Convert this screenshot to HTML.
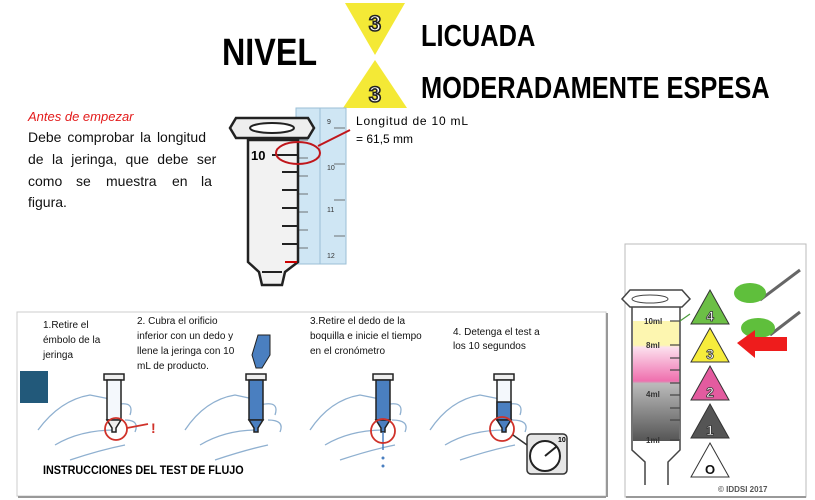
<!DOCTYPE html>
<html><head><meta charset="utf-8"><style>
body{margin:0;background:#fff;width:815px;height:500px;overflow:hidden}
svg{display:block;font-family:"Liberation Sans",sans-serif}
</style></head><body>
<svg width="815" height="500" viewBox="0 0 815 500" xmlns="http://www.w3.org/2000/svg">
<!-- Header -->
<text x="222" y="65" font-size="38" font-weight="bold" transform="translate(222,0) scale(0.85,1) translate(-222,0)" fill="#000">NIVEL</text>
<polygon points="345,3 405,3 375,55" fill="#f4e936"/>
<polygon points="375,60 407,108 343,108" fill="#f4e936"/>
<text x="375" y="31" font-size="22" font-weight="bold" text-anchor="middle" fill="#fff" stroke="#222" stroke-width="1.6">3</text>
<text x="375" y="102" font-size="22" font-weight="bold" text-anchor="middle" fill="#fff" stroke="#222" stroke-width="1.6">3</text>
<text x="421" y="46" font-size="31" font-weight="bold" transform="translate(421,0) scale(0.82,1) translate(-421,0)">LICUADA</text>
<text x="421" y="98" font-size="31" font-weight="bold" transform="translate(421,0) scale(0.82,1) translate(-421,0)">MODERADAMENTE ESPESA</text>

<!-- Left text -->
<text x="28" y="121" font-size="13" font-style="italic" fill="#e31b1b">Antes de empezar</text>
<g font-size="14" fill="#111">
<text x="28" y="142" word-spacing="2">Debe comprobar la longitud</text>
<text x="28" y="164" word-spacing="4.5">de la jeringa, que debe ser</text>
<text y="186"><tspan x="28">como</tspan><tspan x="76">se</tspan><tspan x="106">muestra</tspan><tspan x="172">en</tspan><tspan x="201">la</tspan></text>
<text x="28" y="207">figura.</text>
</g>

<!-- Top syringe -->
<rect x="296" y="108" width="50" height="156" fill="#cfe6f4" stroke="#9bbfd6"/>
<line x1="320" y1="108" x2="320" y2="264" stroke="#9bbfd6"/>
<g stroke="#555" stroke-width="0.8">
<line x1="298" y1="122" x2="308" y2="122"/><line x1="298" y1="140" x2="308" y2="140"/><line x1="298" y1="158" x2="308" y2="158"/><line x1="298" y1="176" x2="308" y2="176"/><line x1="298" y1="194" x2="308" y2="194"/><line x1="298" y1="212" x2="308" y2="212"/><line x1="298" y1="230" x2="308" y2="230"/><line x1="298" y1="248" x2="308" y2="248"/>
<line x1="334" y1="128" x2="345" y2="128"/><line x1="334" y1="164" x2="345" y2="164"/><line x1="334" y1="200" x2="345" y2="200"/><line x1="334" y1="236" x2="345" y2="236"/>
</g>
<g font-size="7" fill="#333"><text x="327" y="124">9</text><text x="327" y="170">10</text><text x="327" y="212">11</text><text x="327" y="258">12</text></g>
<path d="M248,140 L298,140 L298,262 L285,272 L282,285 L262,285 L259,272 L248,262 Z" fill="#f2f2f2" stroke="#222" stroke-width="2.5"/>
<path d="M262,272 L282,272" stroke="#222" stroke-width="2"/>
<path d="M236,118 L308,118 L314,128 L308,138 L236,138 L230,128 Z" fill="#eee" stroke="#222" stroke-width="2.5"/>
<ellipse cx="272" cy="128" rx="22" ry="5" fill="#fff" stroke="#222" stroke-width="2"/>
<g stroke="#222" stroke-width="2">
<line x1="272" y1="155" x2="298" y2="155"/><line x1="282" y1="172" x2="298" y2="172"/><line x1="282" y1="190" x2="298" y2="190"/><line x1="282" y1="208" x2="298" y2="208"/><line x1="282" y1="226" x2="298" y2="226"/><line x1="282" y1="244" x2="298" y2="244"/>
</g>
<text x="251" y="160" font-size="13" font-weight="bold">10</text>
<line x1="285" y1="262" x2="297" y2="262" stroke="#c00" stroke-width="2"/>
<ellipse cx="298" cy="153" rx="22" ry="11" fill="none" stroke="#c0161b" stroke-width="2"/>
<line x1="318" y1="146" x2="350" y2="130" stroke="#c0161b" stroke-width="2"/>
<text x="356" y="125" font-size="12" textLength="112" lengthAdjust="spacing">Longitud de 10 mL</text>
<text x="356" y="143" font-size="12">= 61,5 mm</text>

<!-- Bottom panel -->
<rect x="17" y="312" width="589" height="184" fill="#fff" stroke="#ccc"/>
<line x1="18" y1="497" x2="606" y2="497" stroke="#999" stroke-width="2"/>
<line x1="607" y1="313" x2="607" y2="497" stroke="#999" stroke-width="2"/>
<rect x="20" y="371" width="28" height="32" fill="#22597a"/>
<g font-size="10" fill="#111">
<text x="43" y="328">1.Retire el</text><text x="43" y="343">émbolo de la</text><text x="43" y="358">jeringa</text>
<text x="137" y="324">2. Cubra el orificio</text><text x="137" y="339">inferior con un dedo y</text><text x="137" y="354">llene la jeringa con 10</text><text x="137" y="369">mL de producto.</text>
<text x="310" y="324">3.Retire el dedo de la</text><text x="310" y="339">boquilla e inicie el tiempo</text><text x="310" y="354">en el cronómetro</text>
<text x="453" y="335">4. Detenga el test a</text><text x="453" y="349">los 10 segundos</text>
</g>
<text x="43" y="474" font-size="12" font-weight="bold" transform="translate(43,0) scale(0.9,1) translate(-43,0)">INSTRUCCIONES DEL TEST DE FLUJO</text>

<!-- hands & syringes -->
<g fill="none" stroke="#8fb0d0" stroke-width="1.3">
<path d="M38,430 Q60,400 90,395 L115,400 M55,445 Q80,430 115,430 M70,460 Q100,450 125,445 M115,405 Q135,400 130,415 M125,420 Q140,420 135,432"/>
<path d="M185,430 Q205,400 235,395 L258,400 M200,445 Q225,430 258,430 M215,460 Q245,450 268,445 M260,405 Q280,400 275,415 M268,420 Q285,420 280,432"/>
<path d="M310,430 Q330,400 360,395 L385,400 M325,445 Q350,430 385,430 M340,460 Q370,450 395,445 M385,405 Q405,400 400,415 M392,420 Q410,420 405,432"/>
<path d="M430,430 Q450,400 480,395 L505,400 M445,445 Q470,430 505,430 M460,460 Q490,450 515,445 M505,405 Q525,400 520,415 M512,420 Q530,420 525,432"/>
</g>
<g stroke="#222" stroke-width="1.5">
<rect x="104" y="374" width="20" height="6" fill="#eee"/><rect x="107" y="380" width="14" height="40" fill="#f4f8fc"/><path d="M107,420 L121,420 L116,428 L116,432 L112,432 L112,428 Z" fill="#eee"/>
<rect x="246" y="374" width="20" height="6" fill="#eee"/><rect x="249" y="380" width="14" height="40" fill="#4a7fc0"/><path d="M249,420 L263,420 L258,428 L258,432 L254,432 L254,428 Z" fill="#4a7fc0"/>
<rect x="373" y="374" width="20" height="6" fill="#eee"/><rect x="376" y="380" width="14" height="40" fill="#4a7fc0"/><path d="M376,420 L390,420 L385,428 L385,432 L381,432 L381,428 Z" fill="#4a7fc0"/>
<rect x="494" y="374" width="20" height="6" fill="#eee"/><rect x="497" y="380" width="14" height="40" fill="#f4f8fc"/><rect x="497" y="402" width="14" height="18" fill="#4a7fc0"/><path d="M497,420 L511,420 L506,428 L506,432 L502,432 L502,428 Z" fill="#4a7fc0"/>
</g>
<path d="M258,335 L270,335 L270,355 L262,368 L256,368 L252,355 Z" fill="#4a7fc0" stroke="#222"/>
<line x1="383" y1="432" x2="383" y2="450" stroke="#4a7fc0" stroke-width="1.5"/>
<circle cx="383" cy="458" r="1.5" fill="#4a7fc0"/><circle cx="383" cy="466" r="1.5" fill="#4a7fc0"/>
<g fill="none" stroke="#d0322a" stroke-width="1.8">
<circle cx="116" cy="429" r="11"/><line x1="127" y1="428" x2="148" y2="424"/>
<circle cx="383" cy="431" r="12"/>
<circle cx="502" cy="429" r="12"/>
</g>
<text x="151" y="433" font-size="14" font-weight="bold" fill="#d0322a">!</text>
<line x1="513" y1="435" x2="527" y2="445" stroke="#333" stroke-width="1.5"/>
<rect x="527" y="434" width="40" height="40" rx="4" fill="#e6e6e6" stroke="#333" stroke-width="1.5"/>
<circle cx="545" cy="456" r="15" fill="#fff" stroke="#222" stroke-width="2"/>
<line x1="545" y1="456" x2="556" y2="447" stroke="#222" stroke-width="2"/>
<text x="558" y="442" font-size="7" font-weight="bold">10</text>

<!-- Right panel -->
<rect x="625" y="244" width="181" height="253" fill="#fff" stroke="#bbb"/>
<line x1="626" y1="497" x2="806" y2="497" stroke="#999" stroke-width="2"/>
<path d="M632,300 L632,450 L645,462 L645,485 M680,300 L680,450 L668,462 L668,485" fill="none" stroke="#444" stroke-width="1.5"/>
<defs><linearGradient id="g" x1="0" y1="0" x2="0" y2="1">
<stop offset="0" stop-color="#fdf6b0"/><stop offset="0.2" stop-color="#fdf6b0"/><stop offset="0.22" stop-color="#fce0ee"/><stop offset="0.5" stop-color="#ef6fae"/><stop offset="0.52" stop-color="#bbb"/><stop offset="1" stop-color="#555"/></linearGradient></defs>
<rect x="633" y="321" width="46" height="120" fill="url(#g)"/>
<path d="M630,290 L682,290 L690,299 L682,307 L630,307 L622,299 Z" fill="#fff" stroke="#444" stroke-width="1.5"/>
<ellipse cx="650" cy="299" rx="18" ry="4" fill="none" stroke="#444"/>
<g stroke="#444" stroke-width="1.2"><line x1="670" y1="321" x2="680" y2="321"/><line x1="670" y1="345" x2="680" y2="345"/><line x1="670" y1="358" x2="680" y2="358"/><line x1="670" y1="370" x2="680" y2="370"/><line x1="670" y1="383" x2="680" y2="383"/><line x1="670" y1="395" x2="680" y2="395"/><line x1="670" y1="408" x2="680" y2="408"/><line x1="670" y1="420" x2="680" y2="420"/><line x1="670" y1="440" x2="680" y2="440"/></g>
<g font-size="8" font-weight="bold" fill="#333"><text x="644" y="324">10ml</text><text x="646" y="348">8ml</text><text x="646" y="397">4ml</text><text x="646" y="443">1ml</text></g>
<path d="M680,321 L690,314" stroke="#4a9a3a" stroke-width="1.2"/>
<polygon points="710,290 729,324 691,324" fill="#6cbf46" stroke="#333"/>
<polygon points="710,328 729,362 691,362" fill="#f6ec3c" stroke="#333"/>
<polygon points="710,366 729,400 691,400" fill="#e35b9f" stroke="#333"/>
<polygon points="710,404 729,438 691,438" fill="#555" stroke="#333"/>
<polygon points="710,443 729,477 691,477" fill="#fff" stroke="#333"/>
<g font-size="14" font-weight="bold" text-anchor="middle" fill="#fff" stroke="#333" stroke-width="0.8">
<text x="710" y="321">4</text><text x="710" y="359">3</text><text x="710" y="397">2</text><text x="710" y="435">1</text></g>
<text x="710" y="474" font-size="13" font-weight="bold" text-anchor="middle" fill="#111">O</text>
<path d="M760,300 L800,270" stroke="#666" stroke-width="3" fill="none"/>
<ellipse cx="750" cy="293" rx="16" ry="10" fill="#5fbf3c"/>
<path d="M770,335 L800,312" stroke="#666" stroke-width="3" fill="none"/>
<ellipse cx="758" cy="328" rx="17" ry="10" fill="#5fbf3c"/>
<polygon points="737,343 755,330 755,337 787,337 787,351 755,351 755,358" fill="#ee1c1c"/>
<text x="718" y="492" font-size="8" font-weight="bold" fill="#555">© IDDSI 2017</text>
</svg>
</body></html>
